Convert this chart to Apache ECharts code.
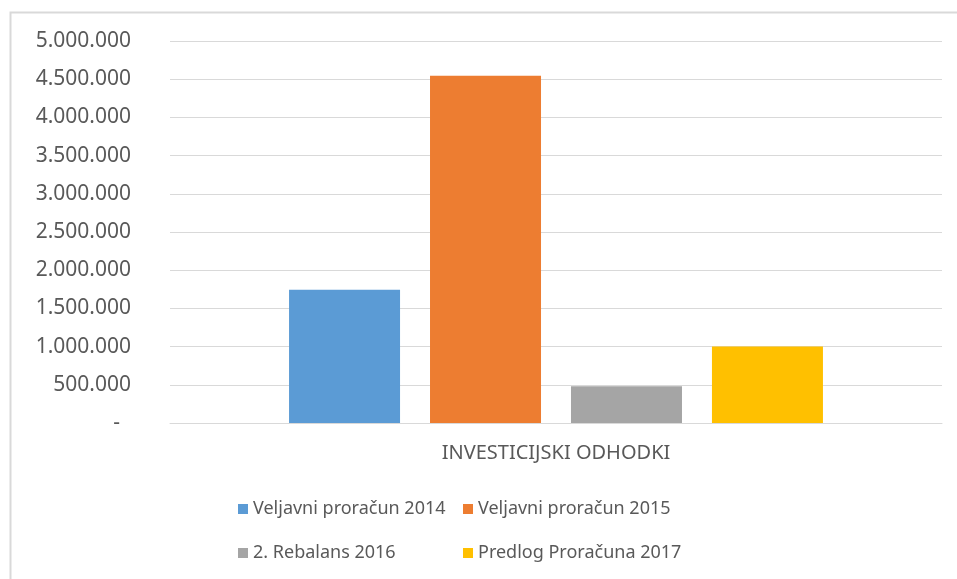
<!DOCTYPE html>
<html>
<head>
<meta charset="utf-8">
<script src="https://cdn.jsdelivr.net/npm/echarts@6/dist/echarts.min.js"></script>
<style>
  html, body { margin: 0; padding: 0; background: #fff; }
  #chart { width: 957px; height: 579px; }
</style>
</head>
<body>
<div id="chart"></div>
<script>
// chart data
const categories = ['INVESTICIJSKI ODHODKI'];
const seriesNames = ['Veljavni proračun 2014', 'Veljavni proračun 2015', '2. Rebalans 2016', 'Predlog Proračuna 2017'];
const seriesValues = [[1743000], [4545000], [480000], [1002000]];
const seriesColors = ['#5B9BD5', '#ED7D31', '#A5A5A5', '#FFC000'];

const textColor = '#595959';
const fontFamily = '"Noto Sans", sans-serif';

// 1500000 -> "1.500.000", 0 -> "-"
function fmtNumber(v) {
  if (v === 0) return '-  ';
  return String(v).replace(/\B(?=(\d{3})+(?!\d))/g, '.');
}

const chart = echarts.init(document.getElementById('chart'));

const legendStyle = {
  orient: 'vertical',
  top: 495,
  itemWidth: 10,
  itemHeight: 10,
  itemGap: 26,
  icon: 'rect',
  textStyle: { color: textColor, fontSize: 18, fontFamily: fontFamily }
};

const option = {
  animation: false,
  backgroundColor: '#fff',
  graphic: [{
    type: 'polyline',
    shape: { points: [[10.5, 579], [10.5, 12.5], [957, 12.5]] },
    style: { stroke: '#d9d9d9', lineWidth: 2, fill: null }
  }],
  grid: { left: 170, right: 15, top: 41, bottom: 156 },
  legend: [
    Object.assign({ left: 233, data: [seriesNames[0], seriesNames[2]] }, legendStyle),
    Object.assign({ left: 458, data: [seriesNames[1], seriesNames[3]] }, legendStyle)
  ],
  xAxis: {
    type: 'category',
    data: categories,
    axisLine: { lineStyle: { color: '#d9d9d9', width: 1 } },
    axisTick: { show: false },
    axisLabel: { color: textColor, fontSize: 20, fontFamily: fontFamily, margin: 20 }
  },
  yAxis: {
    type: 'value',
    min: 0,
    max: 5000000,
    interval: 500000,
    axisLine: { show: false },
    axisTick: { show: false },
    splitLine: { lineStyle: { color: '#d9d9d9', width: 1 } },
    axisLabel: {
      color: textColor, fontSize: 21, fontFamily: fontFamily, margin: 39,
      formatter: fmtNumber
    }
  },
  series: seriesNames.map((name, i) => ({
    name: name,
    type: 'bar',
    data: seriesValues[i],
    barWidth: 111,
    barGap: '27%',
    itemStyle: { color: seriesColors[i] }
  }))
};

chart.setOption(option);
</script>
</body>
</html>
